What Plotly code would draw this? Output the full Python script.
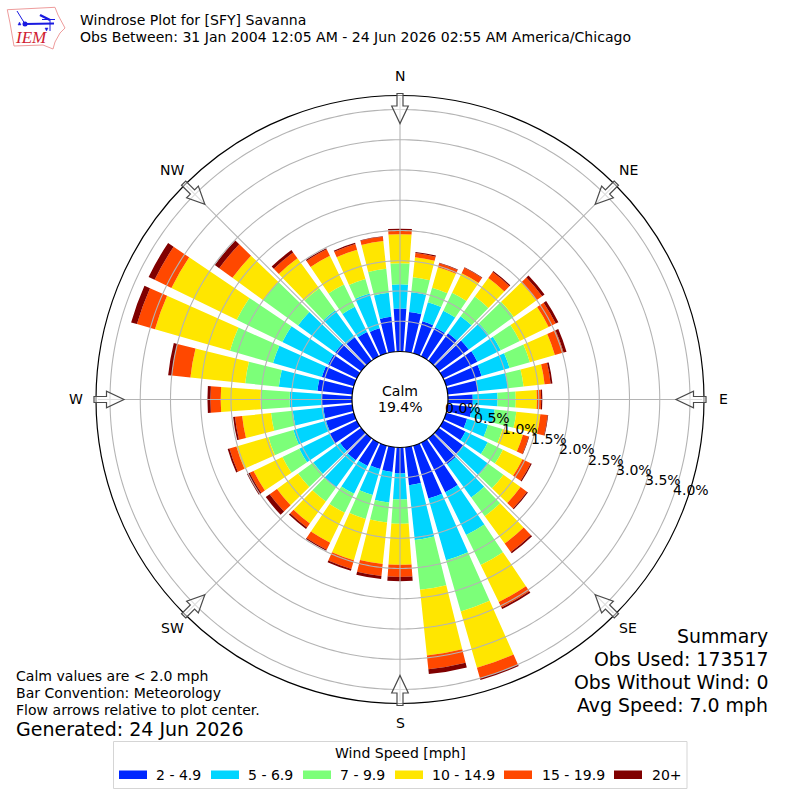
import math
import numpy as np
import plotly.graph_objects as go

# Wind direction (degrees) and percentage of observations per speed bin
directions = [10, 20, 30, 40, 50, 60, 70, 80, 90, 100, 110, 120, 130, 140, 150, 160, 170, 180,
              190, 200, 210, 220, 230, 240, 250, 260, 270, 280, 290, 300, 310, 320, 330, 340, 350, 360]
speed_2_5 = [.66, .55, .53, .56, .61, .63, .61, .50, .41, .40, .36, .41, .50, .53, .91, .91, .63, .43,
             .41, .40, .43, .45, .43, .50, .48, .48, .50, .58, .55, .53, .53, .48, .45, .43, .58, .71]
speed_5_7 = [.33, .33, .31, .35, .41, .43, .48, .50, .41, .38, .36, .41, .51, .68, .79, 1.06, .91, .43,
             .51, .45, .51, .56, .55, .56, .56, .51, .53, .64, .84, .84, .76, .55, .46, .60, .40, .40]
speed_7_10 = [.25, .25, .33, .40, .51, .35, .35, .26, .30, .36, .25, .28, .31, .38, .55, .88, .83, .40,
              .33, .41, .35, .28, .31, .31, .43, .36, .48, .56, .74, .84, .71, .45, .41, .25, .40, .35]
speed_10_15 = [.33, .35, .36, .38, .46, .53, .43, .35, .35, .40, .35, .36, .35, .56, .68, .97, 1.09, .68,
               .69, .71, .55, .45, .43, .53, .55, .48, .66, .91, 1.29, 1.20, .63, .61, .53, .50, .46, .48]
speed_15_20 = [.07, .07, .10, .12, .12, .13, .15, .10, .07, .12, .10, .15, .13, .17, .10, .18, .23, .20,
               .20, .15, .13, .08, .15, .07, .12, .12, .17, .31, .31, .31, .27, .12, .12, .10, .07, .07]
speed_20 = [.02, .01, .01, .02, .05, .05, .05, .03, .02, .01, .01, .02, .02, .03, .03, .03, .08, .07,
            .05, .03, .02, .03, .08, .05, .03, .03, .05, .06, .10, .11, .09, .05, .02, .02, .01, .02]

bin_labels = ["2 - 4.9", "5 - 6.9", "7 - 9.9", "10 - 14.9", "15 - 19.9", "20+"]
bin_values = [speed_2_5, speed_5_7, speed_7_10, speed_10_15, speed_15_20, speed_20]
bin_colors = ["#0028FF", "#00D5FF", "#7CFF79", "#FFE600", "#FF4800", "#800000"]

ring_values = [0.5, 1.0, 1.5, 2.0, 2.5, 3.0, 3.5, 4.0]
radial_tick_labels = ["0.0%", "0.5%", "1.0%", "1.5%", "2.0%", "2.5%", "3.0%", "3.5%", "4.0%"]
compass_angles = [0, 45, 90, 135, 180, 225, 270, 315]
compass_labels = ["N", "NE", "E", "SE", "S", "SW", "W", "NW"]

CX, CY, R_OUT, R_HOLE, PX_PER_PCT = 400.0, 399.5, 304.0, 48.0, 60.5
GRID = "#b4b4b4"


def px(x):
    return x / 800.0


def py(y):
    return 1 - y / 800.0


fig = go.Figure()
for label, values, color in zip(bin_labels, bin_values, bin_colors):
    fig.add_trace(go.Barpolar(r=values, theta=directions, width=8, name=label,
                              marker=dict(color=color, line=dict(width=0)),
                              showlegend=False, hoverinfo="skip"))

ring_theta = list(np.arange(0, 361, 1.0))
for rv in ring_values:
    fig.add_trace(go.Scatterpolar(r=[rv] * len(ring_theta), theta=ring_theta, mode="lines",
                                  line=dict(color=GRID, width=1.1), showlegend=False, hoverinfo="skip"))
for ang in compass_angles:
    fig.add_trace(go.Scatterpolar(r=[0, 4.2], theta=[ang, ang], mode="lines",
                                  line=dict(color=GRID, width=1.1), showlegend=False, hoverinfo="skip"))

shapes = []
annotations = []


def txt(x, y, s, size=14.05, anchor="left", color="black", family="DejaVu Sans"):
    annotations.append(dict(x=px(x), y=py(y), xref="paper", yref="paper", text=s, showarrow=False,
                            xanchor=anchor, yanchor="middle", borderpad=0, borderwidth=0,
                            font=dict(size=size, color=color, family=family)))


def path(points, close=True, **kw):
    d = "M" + " L".join(f"{px(x):.5f},{py(y):.5f}" for x, y in points) + (" Z" if close else "")
    shapes.append(dict(type="path", path=d, xref="paper", yref="paper", layer="above", **kw))


# direction arrows pointing to the centre: (distance along the radius, offset across it)
arrow_outline = [(306, -3), (293.5, -3), (293.5, -8.3), (276, 0), (293.5, 8.3), (293.5, 3), (306, 3)]
for ang in compass_angles:
    a = math.radians(ang)
    pts = []
    for u, v in arrow_outline:
        pts.append((CX + u * math.sin(a) + v * math.cos(a), CY - u * math.cos(a) + v * math.sin(a)))
    path(pts, fillcolor="rgba(255,255,255,0.55)", line=dict(color="#4a4a4a", width=1.2))

# radial scale labels
for i, s in enumerate(radial_tick_labels):
    txt(463 + 28.5 * i, 408 + 10.3 * i, s, anchor="center")

# compass labels
compass_px = [(400, 76), (628, 170), (723, 399), (628, 628), (400, 723), (172, 628), (76, 399), (172, 170)]
for (x, y), s in zip(compass_px, compass_labels):
    txt(x, y, s, anchor="center")

# centre
txt(400, 391, "Calm", anchor="center")
txt(400, 407, "19.4%", anchor="center")

# headers
txt(80, 20, "Windrose Plot for [SFY] Savanna")
txt(80, 37, "Obs Between: 31 Jan 2004 12:05 AM - 24 Jun 2026 02:55 AM America/Chicago")

# left notes
txt(16, 676, "Calm values are &lt; 2.0 mph")
txt(16, 693, "Bar Convention: Meteorology")
txt(16, 710, "Flow arrows relative to plot center.")
txt(16, 729, "Generated: 24 Jun 2026", size=19)

# summary
for y, s in zip([636, 659, 682, 705],
                ["Summary", "Obs Used: 173517", "Obs Without Wind: 0", "Avg Speed: 7.0 mph"]):
    txt(768, y, s, size=18.9, anchor="right")

# legend
shapes.append(dict(type="rect", xref="paper", yref="paper", x0=px(113.5), x1=px(687), y0=py(741.5), y1=py(788.5),
                   line=dict(color="#d5d5d5", width=1), fillcolor="white", layer="above"))
txt(400, 753, "Wind Speed [mph]", anchor="center")
swatch_x = [119, 211, 303, 395, 504, 614]
text_x = [156, 248, 340, 432, 542, 652]
for sx, tx, label, color in zip(swatch_x, text_x, bin_labels, bin_colors):
    shapes.append(dict(type="rect", xref="paper", yref="paper", x0=px(sx), x1=px(sx + 28), y0=py(770.5), y1=py(779),
                       line=dict(width=0), fillcolor=color, layer="above"))
    txt(tx, 775, label)

# IEM logo
path([(7.3, 9.7), (55, 7.3), (58, 15), (65, 28), (60, 33), (55, 42), (53, 49), (43, 45), (14, 46), (10, 23)],
     line=dict(color="#ee9c9c", width=1), fillcolor="rgba(0,0,0,0)")
LOGO = "#1a1ae0"
path([(25, 24), (54, 23.5)], close=False, line=dict(color=LOGO, width=2))
path([(17, 11), (25, 24)], close=False, line=dict(color=LOGO, width=1))
path([(40, 15), (50, 20)], close=False, line=dict(color=LOGO, width=2.5))
path([(42, 19.5), (55, 19.5)], close=False, line=dict(color=LOGO, width=1))
path([(50, 20), (50, 31)], close=False, line=dict(color=LOGO, width=1))
path([(18, 25), (21, 25), (19.5, 22)], line=dict(color=LOGO, width=0.5), fillcolor=LOGO)
path([(45, 28), (48, 28), (46.5, 31)], line=dict(color=LOGO, width=0.5), fillcolor=LOGO)
shapes.append(dict(type="circle", xref="paper", yref="paper", x0=px(22.5), x1=px(27.5), y0=py(21.5), y1=py(26.5),
                   line=dict(width=0), fillcolor=LOGO, layer="above"))
txt(30.5, 38, "<i>IEM</i>", size=17, anchor="center", color="#d02030", family="Liberation Serif")

fig.update_layout(
    width=800, height=800, margin=dict(l=0, r=0, t=0, b=0),
    paper_bgcolor="white", showlegend=False,
    polar=dict(
        domain=dict(x=[px(CX - R_OUT), px(CX + R_OUT)], y=[py(CY + R_OUT), py(CY - R_OUT)]),
        hole=R_HOLE / R_OUT, barmode="stack", bargap=0, bgcolor="white",
        radialaxis=dict(range=[0, (R_OUT - R_HOLE) / PX_PER_PCT], showgrid=False, showline=False,
                        showticklabels=False, ticks=""),
        angularaxis=dict(direction="clockwise", rotation=90, showgrid=False, showticklabels=False, ticks="",
                         linecolor="black", linewidth=1.2),
    ),
    shapes=shapes, annotations=annotations,
)

fig.write_html("out.html", config={"displayModeBar": False}, post_script="document.body.style.margin='0';")
